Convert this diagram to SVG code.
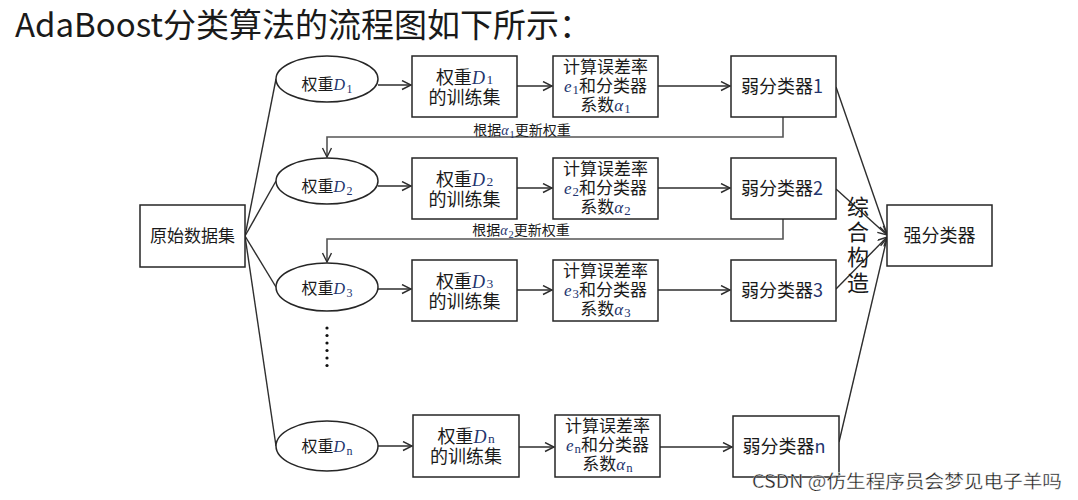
<svg xmlns="http://www.w3.org/2000/svg" width="1078" height="500" viewBox="0 0 1078 500">
<style>
text{font-family:"Noto Sans CJK SC","Liberation Sans",sans-serif;fill:#1a1a1a}
.box{fill:#fff;stroke:#262626;stroke-width:1.5}
.c{text-anchor:middle}
.m{font-family:"Liberation Serif","DejaVu Serif",serif;font-style:italic;fill:#23346e}
.s{font-family:"Liberation Serif","DejaVu Serif",serif;font-size:75%;fill:#23346e}
.n{fill:#23346e}
.line{fill:none;stroke:#2e2e2e;stroke-width:1.4}
.fb{fill:none;stroke:#555;stroke-width:1.6}
.arr{marker-end:url(#ah)}
.t18{font-size:18px}
.t17{font-size:17px}
.t16{font-size:16px}
.t14{font-size:14px}
</style>
<defs>
<marker id="ah" markerUnits="userSpaceOnUse" markerWidth="12" markerHeight="12" refX="10" refY="5" orient="auto">
<path d="M1,0.5 L10,5 L1,9.5" fill="none" stroke="#2e2e2e" stroke-width="1.4"/>
</marker>
</defs>
<rect width="1078" height="500" fill="#fff"/>
<text x="15" y="37" font-size="33" fill="#000">AdaBoost分类算法的流程图如下所示：</text>

<g id="connectors">
<line class="line" x1="245" y1="236" x2="276" y2="79"/>
<line class="line" x1="245" y1="236" x2="276" y2="181"/>
<line class="line" x1="245" y1="236" x2="276" y2="287"/>
<line class="line" x1="245" y1="236" x2="276" y2="446"/>
<line class="line arr" x1="378" y1="85" x2="411" y2="85"/>
<line class="line arr" x1="517" y1="86" x2="552" y2="86"/>
<line class="line arr" x1="658" y1="86" x2="730" y2="86"/>
<line class="line arr" x1="378" y1="186" x2="411" y2="186"/>
<line class="line arr" x1="517" y1="188" x2="552" y2="188"/>
<line class="line arr" x1="658" y1="188" x2="730" y2="188"/>
<line class="line arr" x1="378" y1="289" x2="411" y2="289"/>
<line class="line arr" x1="517" y1="290" x2="552" y2="290"/>
<line class="line arr" x1="658" y1="290" x2="730" y2="290"/>
<line class="line arr" x1="378" y1="446" x2="412" y2="446"/>
<line class="line arr" x1="519" y1="447" x2="554" y2="447"/>
<line class="line arr" x1="660" y1="447" x2="732" y2="447"/>
<path class="fb arr" d="M783,117 V137 H327 V157"/>
<path class="fb arr" d="M783,219 V239 H327 V262"/>
<line class="line arr" x1="836" y1="87" x2="887" y2="234"/>
<line class="line arr" x1="836" y1="189" x2="887" y2="235"/>
<line class="line arr" x1="836" y1="289" x2="887" y2="237"/>
<line class="line arr" x1="839" y1="442" x2="887" y2="238"/>
<text class="t14 c" x="522" y="135">根据<tspan class="m">α</tspan><tspan class="s" dx="1" dy="3">1</tspan><tspan dy="-3">更新权重</tspan></text>
<text class="t14 c" x="521" y="235">根据<tspan class="m">α</tspan><tspan class="s" dx="1" dy="3">2</tspan><tspan dy="-3">更新权重</tspan></text>
<g class="c" font-size="22" fill="#333">
<text x="858" y="215">综</text>
<text x="858" y="240">合</text>
<text x="858" y="265">构</text>
<text x="858" y="291">造</text>
</g>
</g>

<g id="source">
<rect class="box" x="140" y="205" width="105" height="62"/>
<text class="t17 c" x="192.5" y="242">原始数据集</text>
</g>

<g id="weight1">
<ellipse class="box" cx="327" cy="79" rx="51" ry="23"/>
<text class="t16 c" x="327" y="90">权重<tspan class="m">D</tspan><tspan class="s" dx="1.5" dy="3">1</tspan></text>
</g>
<g id="weight2">
<ellipse class="box" cx="327" cy="181" rx="51" ry="23"/>
<text class="t16 c" x="327" y="192">权重<tspan class="m">D</tspan><tspan class="s" dx="1.5" dy="3">2</tspan></text>
</g>
<g id="weight3">
<ellipse class="box" cx="327" cy="287" rx="51" ry="24"/>
<text class="t16 c" x="327" y="294">权重<tspan class="m">D</tspan><tspan class="s" dx="1.5" dy="3">3</tspan></text>
</g>
<g id="weightn">
<ellipse class="box" cx="327" cy="446" rx="51" ry="25"/>
<text class="t16 c" x="327" y="452">权重<tspan class="m">D</tspan><tspan class="s" dx="1.5" dy="3">n</tspan></text>
</g>
<g id="dots" fill="#111">
<circle cx="327" cy="328" r="1.6"/>
<circle cx="327" cy="335.5" r="1.6"/>
<circle cx="327" cy="343" r="1.6"/>
<circle cx="327" cy="350.5" r="1.6"/>
<circle cx="327" cy="358" r="1.6"/>
<circle cx="327" cy="365.5" r="1.6"/>
</g>

<g id="train1">
<rect class="box" x="412" y="56" width="105" height="61"/>
<text class="t18 c" x="464.5" y="84">权重<tspan class="m">D</tspan><tspan class="s" dx="1.5">1</tspan></text>
<text class="t18 c" x="464.5" y="104">的训练集</text>
</g>
<g id="train2">
<rect class="box" x="412" y="158" width="105" height="61"/>
<text class="t18 c" x="464.5" y="186">权重<tspan class="m">D</tspan><tspan class="s" dx="1.5">2</tspan></text>
<text class="t18 c" x="464.5" y="206">的训练集</text>
</g>
<g id="train3">
<rect class="box" x="412" y="260" width="105" height="61"/>
<text class="t18 c" x="464.5" y="288">权重<tspan class="m">D</tspan><tspan class="s" dx="1.5">3</tspan></text>
<text class="t18 c" x="464.5" y="308">的训练集</text>
</g>
<g id="trainn">
<rect class="box" x="413" y="415" width="106" height="62"/>
<text class="t18 c" x="466" y="443">权重<tspan class="m">D</tspan><tspan class="s" dx="1.5">n</tspan></text>
<text class="t18 c" x="466" y="463">的训练集</text>
</g>

<g id="calc1">
<rect class="box" x="553" y="56" width="105" height="61"/>
<text class="t17 c" x="605.5" y="73">计算误差率</text>
<text class="t17 c" x="605.5" y="92"><tspan class="m">e</tspan><tspan class="s" dx="1" dy="2">1</tspan><tspan dy="-2">和分类器</tspan></text>
<text class="t17 c" x="605.5" y="111">系数<tspan class="m">α</tspan><tspan class="s" dx="1" dy="2">1</tspan></text>
</g>
<g id="calc2">
<rect class="box" x="553" y="158" width="105" height="61"/>
<text class="t17 c" x="605.5" y="175">计算误差率</text>
<text class="t17 c" x="605.5" y="194"><tspan class="m">e</tspan><tspan class="s" dx="1" dy="2">2</tspan><tspan dy="-2">和分类器</tspan></text>
<text class="t17 c" x="605.5" y="213">系数<tspan class="m">α</tspan><tspan class="s" dx="1" dy="2">2</tspan></text>
</g>
<g id="calc3">
<rect class="box" x="553" y="260" width="105" height="61"/>
<text class="t17 c" x="605.5" y="277">计算误差率</text>
<text class="t17 c" x="605.5" y="296"><tspan class="m">e</tspan><tspan class="s" dx="1" dy="2">3</tspan><tspan dy="-2">和分类器</tspan></text>
<text class="t17 c" x="605.5" y="315">系数<tspan class="m">α</tspan><tspan class="s" dx="1" dy="2">3</tspan></text>
</g>
<g id="calcn">
<rect class="box" x="555" y="415" width="105" height="62"/>
<text class="t17 c" x="607.5" y="432">计算误差率</text>
<text class="t17 c" x="607.5" y="451"><tspan class="m">e</tspan><tspan class="s" dx="1" dy="2">n</tspan><tspan dy="-2">和分类器</tspan></text>
<text class="t17 c" x="607.5" y="470">系数<tspan class="m">α</tspan><tspan class="s" dx="1" dy="2">n</tspan></text>
</g>

<g id="weak1">
<rect class="box" x="731" y="56" width="105" height="61"/>
<text class="t18 c" x="782" y="93">弱分类器<tspan class="n">1</tspan></text>
</g>
<g id="weak2">
<rect class="box" x="731" y="158" width="105" height="61"/>
<text class="t18 c" x="782" y="195">弱分类器<tspan class="n">2</tspan></text>
</g>
<g id="weak3">
<rect class="box" x="731" y="260" width="105" height="61"/>
<text class="t18 c" x="782" y="297">弱分类器<tspan class="n">3</tspan></text>
</g>
<g id="weakn">
<rect class="box" x="733" y="416" width="106" height="61"/>
<text class="t18 c" x="784" y="453">弱分类器<tspan class="n">n</tspan></text>
</g>

<g id="strong">
<rect class="box" x="887" y="205" width="105" height="61"/>
<text class="t18 c" x="939.5" y="242">强分类器</text>
</g>

<text x="752" y="488" font-size="18" textLength="310" lengthAdjust="spacingAndGlyphs" fill="#9c9c9c" stroke="#fff" stroke-width="0.3">CSDN @仿生程序员会梦见电子羊吗</text>
</svg>
